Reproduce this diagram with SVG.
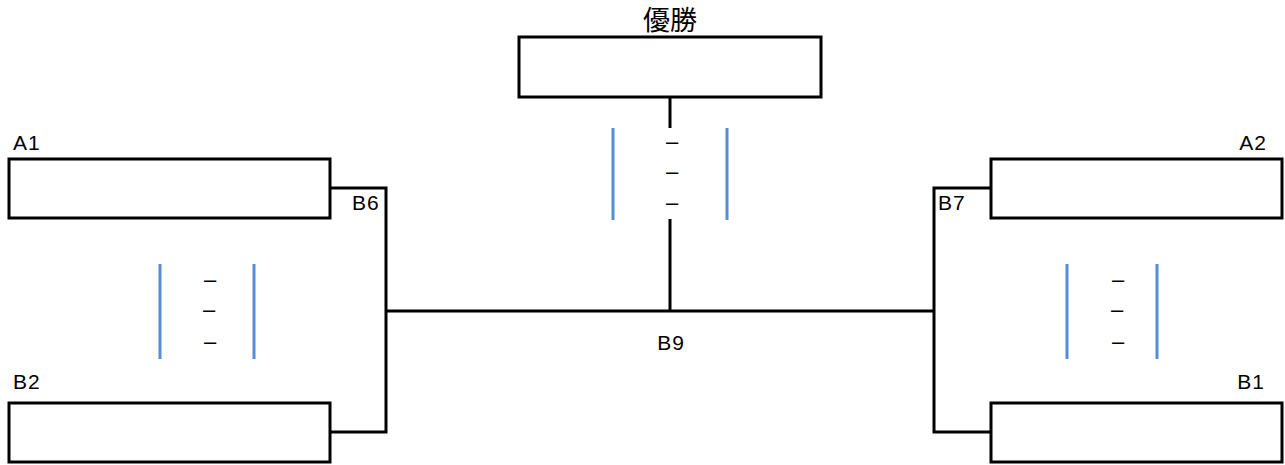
<svg xmlns="http://www.w3.org/2000/svg" width="1285" height="465" viewBox="0 0 1285 465">
<style>
.box{fill:#fff;stroke:#000;stroke-width:3}
.lbl{font-family:"Liberation Sans",Arial,sans-serif;font-size:21px;letter-spacing:1px;fill:#000}
.ttl{font-family:"Noto Sans CJK JP","Noto Sans CJK SC",sans-serif;font-size:27px;fill:#000}
.con{fill:none;stroke:#000;stroke-width:3}
.blue{stroke:#558ED5;stroke-width:3}
.dash{font-family:"Liberation Sans",Arial,sans-serif;font-size:22px;fill:#000;text-anchor:middle}
</style>
<rect width="1285" height="465" fill="#fff"/>
<g id="connectors">
<polyline class="con" points="670,97 670,128"/>
<polyline class="con" points="670,219 670,311"/>
<polyline class="con" points="330,188 386,188 386,432 330,432"/>
<polyline class="con" points="991,188 934,188 934,432 991,432"/>
<line class="con" x1="386" y1="311" x2="934" y2="311"/>
</g>
<g id="champion">
<rect class="box" x="519" y="37" width="302" height="60"/>
<text class="ttl" x="670" y="30" text-anchor="middle">優勝</text>
</g>
<g id="A1">
<rect class="box" x="9" y="159" width="321" height="59"/>
<text class="lbl" x="13" y="150">A1</text>
</g>
<g id="B2">
<rect class="box" x="9" y="403" width="321" height="59"/>
<text class="lbl" x="13" y="389">B2</text>
</g>
<g id="A2">
<rect class="box" x="991" y="159" width="291" height="59"/>
<text class="lbl" x="1267" y="150" text-anchor="end">A2</text>
</g>
<g id="B1">
<rect class="box" x="991" y="403" width="291" height="59"/>
<text class="lbl" x="1265" y="389" text-anchor="end">B1</text>
</g>
<g id="labels">
<text class="lbl" x="352" y="210">B6</text>
<text class="lbl" x="938" y="210">B7</text>
<text class="lbl" x="671" y="350" text-anchor="middle">B9</text>
</g>
<g id="note-top">
<line class="blue" x1="613" y1="128" x2="613" y2="220"/>
<line class="blue" x1="727" y1="128" x2="727" y2="220"/>
<text class="dash" x="672" y="149">–</text>
<text class="dash" x="672" y="179">–</text>
<text class="dash" x="672" y="210">–</text>
</g>
<g id="note-left">
<line class="blue" x1="160" y1="264" x2="160" y2="359"/>
<line class="blue" x1="254" y1="264" x2="254" y2="359"/>
<text class="dash" x="210" y="287">–</text>
<text class="dash" x="209" y="317">–</text>
<text class="dash" x="210" y="349">–</text>
</g>
<g id="note-right">
<line class="blue" x1="1067" y1="264" x2="1067" y2="359"/>
<line class="blue" x1="1157" y1="264" x2="1157" y2="359"/>
<text class="dash" x="1118" y="287">–</text>
<text class="dash" x="1117" y="317">–</text>
<text class="dash" x="1118" y="349">–</text>
</g>
</svg>
